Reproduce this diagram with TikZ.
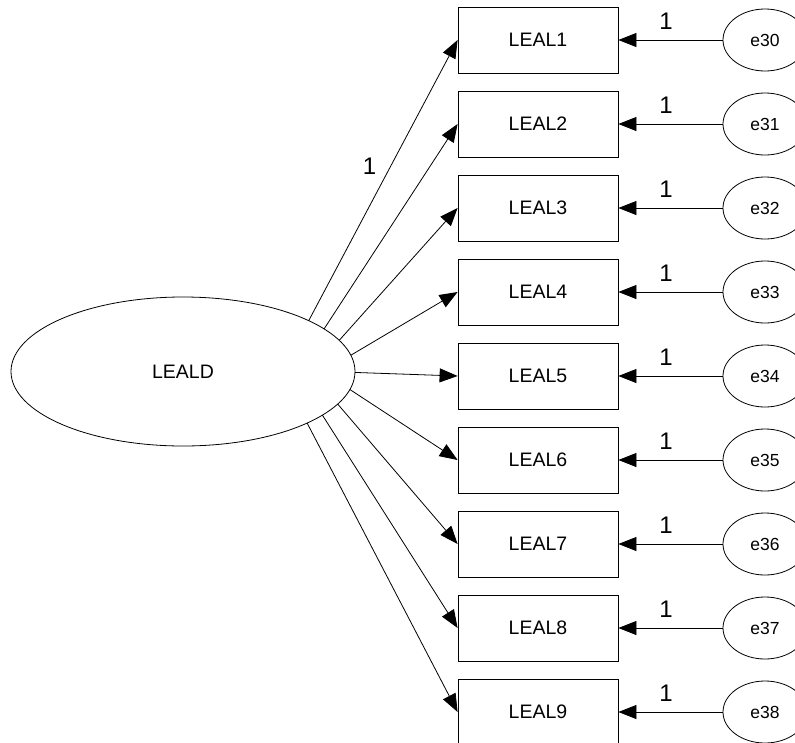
\documentclass[tikz,border=0pt]{standalone}
\usepackage{fontspec}
\setmainfont{Liberation Sans}
\usetikzlibrary{arrows.meta,calc,shapes.geometric}

\begin{document}
\begin{tikzpicture}[x=1pt,y=-1pt,
  every node/.style={inner sep=0pt},
  latent/.style={draw,ellipse,line width=0.8pt,minimum width=344pt,minimum height=149pt,
    font=\fontsize{19.5pt}{22pt}\selectfont},
  observed/.style={draw,rectangle,line width=0.8pt,minimum width=160pt,minimum height=66pt,
    font=\fontsize{19.5pt}{22pt}\selectfont},
  errterm/.style={draw,ellipse,line width=0.8pt,minimum width=84pt,minimum height=62pt,
    font=\fontsize{17.5pt}{20pt}\selectfont},
  weight/.style={font=\fontsize{24pt}{26pt}\selectfont,inner sep=0pt},
  regpath/.style={line width=0.8pt,-{Triangle[length=18pt,width=14pt]}}]
\useasboundingbox (0,0) rectangle (795,742);

% latent factor
\node[latent] (leald) at (183,371.5) {LEALD};

% indicators and their error terms
\foreach \i [evaluate=\i as \yc using {40+84*(\i-1)}, evaluate=\i as \en using {int(29+\i)}] in {1,...,9} {
  \node[observed] (o\i) at (538,\yc) {LEAL\i};
  \node[errterm] (e\i) at (765,\yc) {e\en};
  \draw[regpath] (e\i) -- (o\i)
    node[weight,midway,anchor=south,xshift=-4.5pt,yshift=10pt] {1};
}

% factor loadings: each path leaves the ellipse at the parametric angle
% pointing to the indicator's centre
\foreach \i in {1,...,9} {
  \draw[regpath] let \p1=($(o\i.center)-(leald.center)$), \n1={atan2(\y1,\x1)} in
    ($(leald.center)+(\n1:172pt and 74.5pt)$) -- (o\i.west)
    \ifnum\i=1 node[weight,pos=0.55,anchor=east,xshift=-14pt] {1}\fi;
}
\end{tikzpicture}
\end{document}
